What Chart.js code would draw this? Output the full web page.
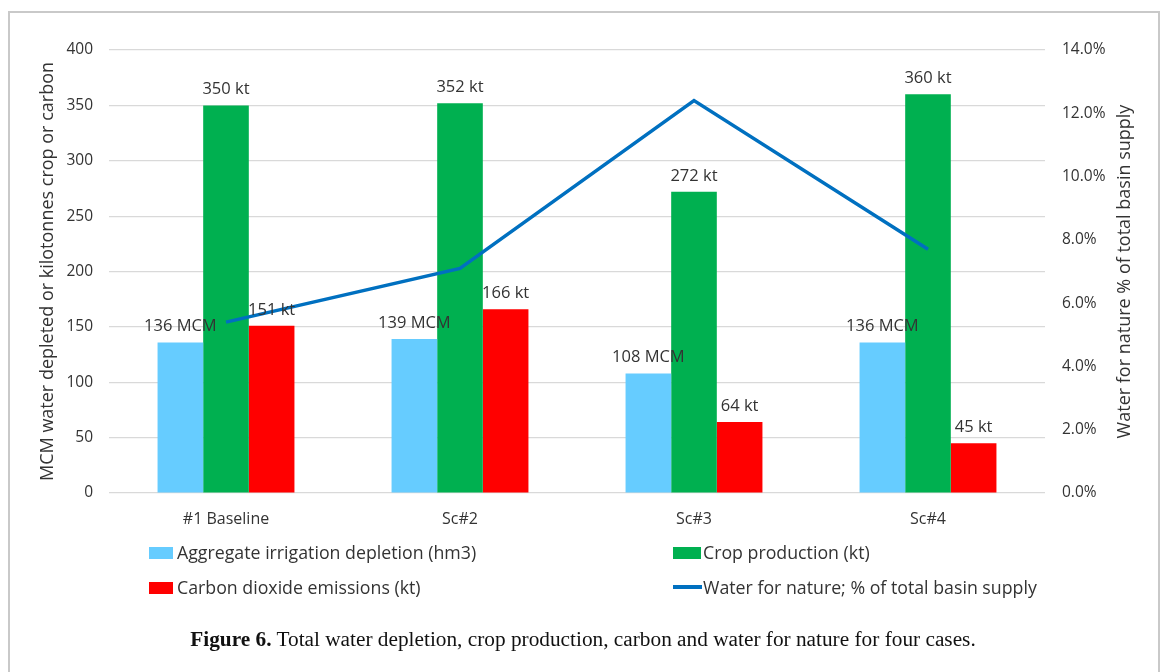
<!DOCTYPE html>
<html>
<head>
<meta charset="utf-8">
<script src="https://cdn.jsdelivr.net/npm/chart.js@4"></script>
<style>
  html, body { margin: 0; padding: 0; background: #fff; }
  #page { position: relative; width: 1168px; height: 672px; overflow: hidden; background: #fff; }
  #frame { position: absolute; left: 8px; top: 11px; width: 1152px; height: 700px; border: 2px solid #c9c9c9; box-sizing: border-box; }
  #chart { position: absolute; left: 0; top: 0; }
  .lg { position: absolute; font-family: "Open Sans", sans-serif; font-size: 17.75px; color: #333; white-space: nowrap; line-height: 18px; }
  .sw { position: absolute; }
  #caption { position: absolute; left: 0; width: 1166px; top: 626px; text-align: center; font-family: "Liberation Serif", "Times New Roman", serif; font-size: 21.3px; line-height: 26px; color: #111; }
</style>
</head>
<body>
<div id="page">
  <div id="frame"></div>
  <canvas id="chart" width="1168" height="672"></canvas>

  <div class="sw" style="left:149px; top:547px; width:24px; height:12px; background:#66CCFF;"></div>
  <div class="lg" style="left:177px; top:543px;">Aggregate irrigation depletion (hm3)</div>
  <div class="sw" style="left:673px; top:547px; width:28px; height:12px; background:#00B050;"></div>
  <div class="lg" style="left:703px; top:543px;">Crop production (kt)</div>
  <div class="sw" style="left:149px; top:582px; width:24px; height:12px; background:#FF0000;"></div>
  <div class="lg" style="left:177px; top:578px;">Carbon dioxide emissions (kt)</div>
  <div class="sw" style="left:673px; top:585px; width:29px; height:3.5px; background:#0070C0;"></div>
  <div class="lg" style="left:703px; top:578px;">Water for nature; % of total basin supply</div>

  <div id="caption"><b>Figure 6.</b> Total water depletion, crop production, carbon and water for nature for four cases.</div>
</div>

<script>
// Scenario names along the x axis
const categories = ['#1 Baseline', 'Sc#2', 'Sc#3', 'Sc#4'];

// Aggregate irrigation depletion, million cubic metres
const irrigationDepletion = [136, 139, 108, 136];
// Crop production, kilotonnes
const cropProduction = [350, 352, 272, 360];
// Carbon dioxide emissions, kilotonnes
const co2Emissions = [151, 166, 64, 45];
// Water left for nature, percent of total basin supply
const waterForNature = [5.4, 7.1, 12.4, 7.7];

// Axis tick values
const leftTicks = [0, 50, 100, 150, 200, 250, 300, 350, 400];
const rightTicks = [0, 2, 4, 6, 8, 10, 12, 14];

const units = ['MCM', 'kt', 'kt'];
const textColor = '#333333';
const fontFamily = '"Open Sans", sans-serif';

// Value labels above each bar
const barLabels = {
  id: 'barLabels',
  afterDatasetsDraw(chart) {
    const ctx = chart.ctx;
    ctx.save();
    ctx.font = '16.5px ' + fontFamily;
    ctx.fillStyle = textColor;
    ctx.textAlign = 'center';
    ctx.textBaseline = 'alphabetic';
    chart.data.datasets.forEach((ds, di) => {
      if (ds.type === 'line') return;
      const meta = chart.getDatasetMeta(di);
      meta.data.forEach((el, i) => {
        ctx.fillText(ds.data[i] + ' ' + units[di], el.x, el.y - 11);
      });
    });
    ctx.restore();
  }
};

// Right-hand axis title, reading bottom to top
const rightTitle = {
  id: 'rightTitle',
  afterDraw(chart) {
    const ctx = chart.ctx;
    const area = chart.chartArea;
    ctx.save();
    ctx.font = '18px ' + fontFamily;
    ctx.fillStyle = textColor;
    ctx.textAlign = 'center';
    ctx.textBaseline = 'middle';
    ctx.translate(1125, (area.top + area.bottom) / 2);
    ctx.rotate(-Math.PI / 2);
    ctx.fillText('Water for nature % of total basin supply', 0, 0);
    ctx.restore();
  }
};

new Chart(document.getElementById('chart'), {
  type: 'bar',
  data: {
    labels: categories,
    datasets: [
      { label: 'Aggregate irrigation depletion (hm3)', data: irrigationDepletion, backgroundColor: '#66CCFF', yAxisID: 'y', order: 1 },
      { label: 'Crop production (kt)', data: cropProduction, backgroundColor: '#00B050', yAxisID: 'y', order: 1 },
      { label: 'Carbon dioxide emissions (kt)', data: co2Emissions, backgroundColor: '#FF0000', yAxisID: 'y', order: 1 },
      { type: 'line', label: 'Water for nature; % of total basin supply', data: waterForNature, borderColor: '#0070C0', borderWidth: 3.5, pointRadius: 0, tension: 0, fill: false, yAxisID: 'y1', order: 0 }
    ]
  },
  options: {
    responsive: false,
    animation: false,
    layout: { padding: { top: 50, left: 0, right: 0, bottom: 0 } },
    datasets: { bar: { categoryPercentage: 0.585, barPercentage: 1.0 } },
    plugins: { legend: { display: false }, tooltip: { enabled: false } },
    scales: {
      x: {
        grid: { display: false, drawTicks: false },
        border: { display: false },
        ticks: { color: textColor, font: { family: fontFamily, size: 16 }, padding: 17 },
        afterFit(s) { s.height = 179; }
      },
      y: {
        position: 'left',
        min: 0, max: 400,
        afterBuildTicks(s) { s.ticks = leftTicks.map(v => ({ value: v })); },
        grid: { color: '#d9d9d9', lineWidth: 1.2, drawTicks: false },
        border: { display: false },
        ticks: { color: textColor, font: { family: fontFamily, size: 15.5 }, padding: 16 },
        title: { display: true, text: 'MCM water depleted or kilotonnes crop or carbon', color: textColor, font: { family: fontFamily, size: 18 }, padding: { top: 37, bottom: 0 } },
        afterFit(s) { s.width = 109; }
      },
      y1: {
        position: 'right',
        min: 0, max: 14,
        afterBuildTicks(s) { s.ticks = rightTicks.map(v => ({ value: v })); },
        grid: { display: false, drawTicks: false },
        border: { display: false },
        ticks: { color: textColor, font: { family: fontFamily, size: 15.5 }, padding: 17, callback: v => v.toFixed(1) + '%' },
        afterFit(s) { s.width = 123; }
      }
    }
  },
  plugins: [barLabels, rightTitle]
});
</script>
</body>
</html>
